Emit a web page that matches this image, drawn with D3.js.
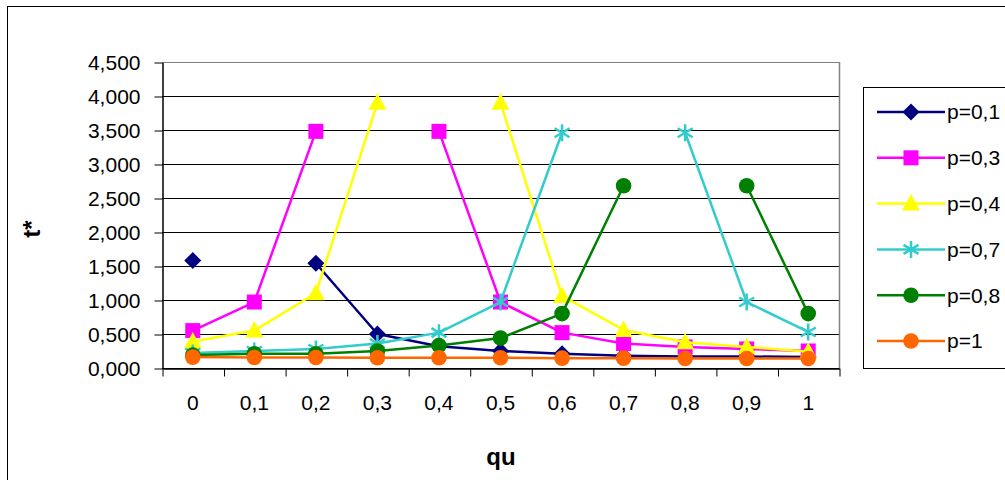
<!DOCTYPE html>
<html>
<head>
<meta charset="utf-8">
<script src="https://cdn.jsdelivr.net/npm/d3@7"></script>
<style>
  body { margin: 0; background: #fff; }
  svg { display: block; font-family: "Liberation Sans", Arial, sans-serif; }
</style>
</head>
<body>
<div id="chart"></div>
<script>
// categories (qu) and y ticks
const categories = ["0", "0,1", "0,2", "0,3", "0,4", "0,5", "0,6", "0,7", "0,8", "0,9", "1"];
const yTicks = [0, 0.5, 1, 1.5, 2, 2.5, 3, 3.5, 4, 4.5];

// series values (null = no point)
const p01 = [1.58, null, 1.54, 0.50, 0.32, 0.25, 0.21, 0.18, 0.17, 0.17, 0.16];
const p03 = [0.55, 0.97, 3.48, null, 3.48, 0.97, 0.52, 0.36, 0.31, 0.28, 0.25];
const p04 = [0.39, 0.55, 1.10, 3.90, null, 3.90, 1.06, 0.56, 0.38, 0.31, 0.24];
const p07 = [0.22, 0.25, 0.28, 0.36, 0.52, 0.97, 3.46, null, 3.46, 0.97, 0.53];
const p08 = [0.19, 0.21, 0.21, 0.25, 0.33, 0.44, 0.80, 2.68, null, 2.68, 0.80];
const p1  = [0.16, 0.155, 0.155, 0.15, 0.15, 0.15, 0.145, 0.145, 0.14, 0.14, 0.14];

const seriesNames = ["p=0,1", "p=0,3", "p=0,4", "p=0,7", "p=0,8", "p=1"];
const seriesValues = [p01, p03, p04, p07, p08, p1];
const seriesColors = ["#000080", "#FF00FF", "#FFFF00", "#33CCCC", "#008000", "#FF6600"];
const seriesMarkers = ["diamond", "square", "triangle", "star", "circle", "circle"];

const locale = d3.formatLocale({decimal: ",", thousands: ".", grouping: [3], currency: ["", ""]});
const fmt = locale.format(".3f");

const svg = d3.select("#chart").append("svg")
    .attr("width", 1005)
    .attr("height", 480);

// chart outer border
svg.append("rect")
    .attr("x", 7.5).attr("y", 6.5)
    .attr("width", 1100).attr("height", 600)
    .attr("fill", "none").attr("stroke", "#000").attr("stroke-width", 1);

const plot = {left: 162, right: 839, top: 62, bottom: 368};

const x = d3.scaleBand().domain(categories).range([plot.left, plot.right]).padding(0);
const xEdges = d3.scaleLinear().domain([0, categories.length]).range([plot.left, plot.right]);
const y = d3.scaleLinear().domain([0, 4.5]).range([plot.bottom, plot.top]);

// gridlines
svg.append("g")
    .selectAll("line")
    .data(yTicks)
    .join("line")
    .attr("x1", plot.left).attr("x2", plot.right)
    .attr("y1", d => Math.round(y(d)) + 0.5).attr("y2", d => Math.round(y(d)) + 0.5)
    .attr("stroke", d => d === 4.5 ? "#808080" : "#000")
    .attr("stroke-width", 1);

// plot area right border
svg.append("line")
    .attr("x1", plot.right + 0.5).attr("x2", plot.right + 0.5)
    .attr("y1", plot.top).attr("y2", plot.bottom)
    .attr("stroke", "#808080").attr("stroke-width", 1.5);

// y axis
const yAxis = svg.append("g")
    .attr("transform", "translate(" + (plot.left + 0.5) + ",0.5)")
    .call(d3.axisLeft(y).tickValues(yTicks).tickFormat(fmt).tickSize(8).tickSizeOuter(0).tickPadding(14));
yAxis.selectAll("text").attr("font-size", 21).attr("fill", "#000").attr("font-family", "Liberation Sans, Arial, sans-serif");
yAxis.selectAll("line").attr("stroke", "#000");
yAxis.select(".domain").attr("stroke", "#000").attr("stroke-width", 1.5);

// x axis: ticks between categories
const xTicks = svg.append("g")
    .attr("transform", "translate(0.5," + (plot.bottom + 0.5) + ")")
    .call(d3.axisBottom(xEdges).tickValues(d3.range(categories.length + 1)).tickFormat("").tickSize(8).tickSizeOuter(0));
xTicks.selectAll("line").attr("stroke", "#000");
xTicks.select(".domain").attr("stroke", "#000").attr("stroke-width", 1.5);

const xLabels = svg.append("g")
    .attr("transform", "translate(0," + plot.bottom + ")")
    .call(d3.axisBottom(x).tickSize(0).tickPadding(27));
xLabels.select(".domain").remove();
xLabels.selectAll("text").attr("font-size", 21).attr("fill", "#000").attr("font-family", "Liberation Sans, Arial, sans-serif");

// axis titles
svg.append("text")
    .attr("x", 501).attr("y", 457).attr("dy", "0.35em")
    .attr("text-anchor", "middle")
    .attr("font-size", 24).attr("font-weight", "bold")
    .text("qu");

svg.append("text")
    .attr("transform", "translate(40,229) rotate(-90)")
    .attr("text-anchor", "middle")
    .attr("font-size", 24).attr("font-weight", "bold")
    .text("t*");

function drawMarker(sel, type, color) {
  if (type === "diamond") {
    sel.append("path").attr("d", "M0,-8.5L8.5,0L0,8.5L-8.5,0Z").attr("fill", color);
  } else if (type === "square") {
    sel.append("rect").attr("x", -7.5).attr("y", -7.5).attr("width", 15).attr("height", 15).attr("fill", color);
  } else if (type === "triangle") {
    sel.append("path").attr("d", "M0,-9.5L9,7L-9,7Z").attr("fill", color);
  } else if (type === "star") {
    sel.append("path").attr("d", "M0,-8.5L0,8.5M-7.5,-4.5L7.5,4.5M-7.5,4.5L7.5,-4.5")
        .attr("stroke", color).attr("stroke-width", 2.5).attr("fill", "none");
  } else {
    sel.append("circle").attr("r", 7.8).attr("fill", color);
  }
}

const line = d3.line()
    .defined(d => d.v !== null)
    .x(d => x(d.c) + x.bandwidth() / 2)
    .y(d => y(d.v));

seriesValues.forEach((vals, i) => {
  const pts = vals.map((v, j) => ({c: categories[j], v: v}));
  const g = svg.append("g");
  g.append("path")
      .datum(pts)
      .attr("fill", "none")
      .attr("stroke", seriesColors[i])
      .attr("stroke-width", 2.5)
      .attr("stroke-linejoin", "round")
      .attr("d", line);
  g.selectAll("g.m")
      .data(pts.filter(d => d.v !== null))
      .join("g")
      .attr("class", "m")
      .attr("transform", d => "translate(" + (x(d.c) + x.bandwidth() / 2) + "," + y(d.v) + ")")
      .each(function() { drawMarker(d3.select(this), seriesMarkers[i], seriesColors[i]); });
});

// legend
const legend = svg.append("g");
legend.append("rect")
    .attr("x", 863.5).attr("y", 87.5)
    .attr("width", 300).attr("height", 281)
    .attr("fill", "#fff").attr("stroke", "#000").attr("stroke-width", 1);

const ly = d3.scalePoint().domain(seriesNames).range([112, 341]);
seriesNames.forEach((name, i) => {
  const row = legend.append("g").attr("transform", "translate(0," + ly(name) + ")");
  row.append("line")
      .attr("x1", 877).attr("x2", 945)
      .attr("stroke", seriesColors[i]).attr("stroke-width", 2.5);
  const m = row.append("g").attr("transform", "translate(911,0)");
  drawMarker(m, seriesMarkers[i], seriesColors[i]);
  row.append("text")
      .attr("x", 947).attr("dy", "0.35em")
      .attr("font-size", 21).attr("fill", "#000")
      .text(name);
});
</script>
</body>
</html>
